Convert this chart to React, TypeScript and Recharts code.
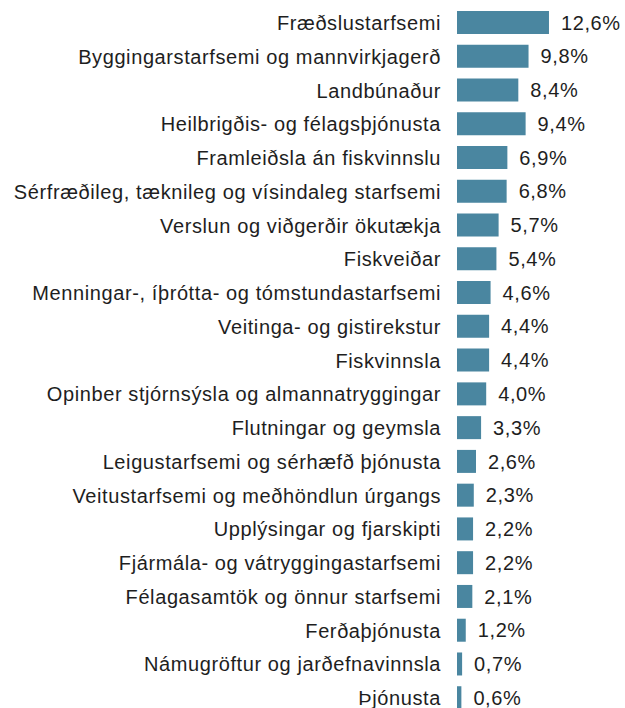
import React from 'react';
import { BarChart, Bar, XAxis, YAxis, LabelList } from 'recharts';

const categories = [
  'Fræðslustarfsemi',
  'Byggingarstarfsemi og mannvirkjagerð',
  'Landbúnaður',
  'Heilbrigðis- og félagsþjónusta',
  'Framleiðsla án fiskvinnslu',
  'Sérfræðileg, tæknileg og vísindaleg starfsemi',
  'Verslun og viðgerðir ökutækja',
  'Fiskveiðar',
  'Menningar-, íþrótta- og tómstundastarfsemi',
  'Veitinga- og gistirekstur',
  'Fiskvinnsla',
  'Opinber stjórnsýsla og almannatryggingar',
  'Flutningar og geymsla',
  'Leigustarfsemi og sérhæfð þjónusta',
  'Veitustarfsemi og meðhöndlun úrgangs',
  'Upplýsingar og fjarskipti',
  'Fjármála- og vátryggingastarfsemi',
  'Félagasamtök og önnur starfsemi',
  'Ferðaþjónusta',
  'Námugröftur og jarðefnavinnsla',
  'Þjónusta',
];

const shares = [12.6, 9.8, 8.4, 9.4, 6.9, 6.8, 5.7, 5.4, 4.6, 4.4, 4.4, 4.0, 3.3, 2.6, 2.3, 2.2, 2.2, 2.1, 1.2, 0.7, 0.6];

const data = categories.map((name, i) => ({ name, value: shares[i] }));

const fmt = (v: number) => v.toFixed(1).replace('.', ',') + '%';

const textStyle = {
  fill: '#1e1e1e',
  fontSize: 20,
  letterSpacing: 0.6,
  fontFamily: 'Liberation Sans, Arial, sans-serif',
};

export default function App() {
  return (
    <div style={{ position: 'absolute', left: 0, top: 0, background: '#fff' }}>
      <BarChart
        width={625}
        height={716}
        data={data}
        layout="vertical"
        margin={{ top: 6, right: 22, bottom: 1, left: 0 }}
        barCategoryGap={0}
      >
        <XAxis type="number" domain={[0, 20]} hide />
        <YAxis
          type="category"
          dataKey="name"
          width={457}
          axisLine={false}
          tickLine={false}
          tickSize={0}
          tickMargin={16}
          interval={0}
          tick={textStyle}
        />
        <Bar dataKey="value" fill="#4a86a0" barSize={23} isAnimationActive={false}>
          <LabelList
            dataKey="value"
            position="right"
            offset={12}
            formatter={(v: number) => fmt(v)}
            style={textStyle}
          />
        </Bar>
      </BarChart>
    </div>
  );
}
